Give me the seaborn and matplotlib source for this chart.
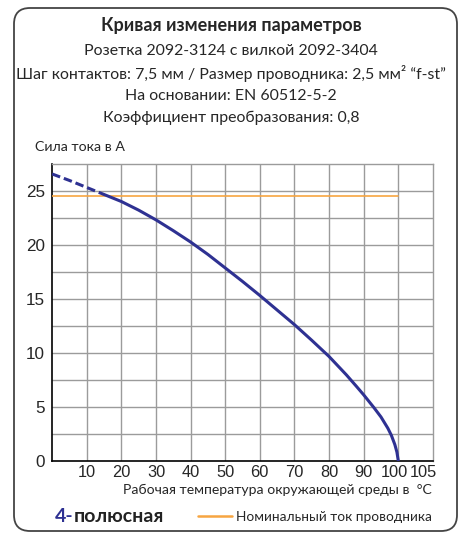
import matplotlib
matplotlib.use("Agg")
import matplotlib.pyplot as plt
import seaborn as sns
import pandas as pd
from matplotlib.patches import FancyBboxPatch
from matplotlib.transforms import IdentityTransform, ScaledTranslation
from matplotlib.ticker import MultipleLocator, FixedLocator

# Derating curve: extrapolated part (dashed) and rated part (solid)
temp_dashed = [0, 5, 10, 15]
current_dashed = [26.55, 25.95, 25.3, 24.65]
temp_solid = [15, 20, 25, 30, 35, 40, 45, 50, 55, 60, 65, 70, 75, 80, 85, 88, 90, 93, 95, 97, 98, 99, 99.6, 100]
current_solid = [24.65, 24.0, 23.2, 22.3, 21.3, 20.25, 19.1, 17.85, 16.6, 15.3, 13.95, 12.6, 11.15, 9.65, 7.95,
                 6.85, 6.1, 4.9, 4.05, 3.0, 2.35, 1.5, 0.8, 0.0]
# Rated conductor current
rated_temp = [0, 100]
rated_current = [24.5, 24.5]

x_ticks = [10, 20, 30, 40, 50, 60, 70, 80, 90, 100, 105]
y_ticks = [0, 5, 10, 15, 20, 25]

title = "Кривая изменения параметров"
subtitle_lines = [
    "Розетка 2092-3124 с вилкой 2092-3404",
    "Шаг контактов: 7,5 мм / Размер проводника: 2,5 мм² \u201cf-st\u201d",
    "На основании: EN 60512-5-2",
    "Коэффициент преобразования: 0,8",
]
y_label = "Сила тока в А"
x_label = "Рабочая температура окружающей среды в  °C"
series_num = "4-"
series_name = "полюсная"
rated_label = "Номинальный ток проводника"

BLUE = "#2e3192"
ORANGE = "#f7a541"
GRID = "#9b9b9b"
W, H = 462, 533

sns.set_style("white")
TXT = ["Lato", "DejaVu Sans"]
NUM = ["Liberation Sans", "DejaVu Sans"]
plt.rcParams["font.family"] = TXT

fig = plt.figure(figsize=(W / 100, H / 100), dpi=100)
ax = fig.add_axes([52.1 / W, 1 - 460.7 / H, (432.9 - 52.1) / W, (460.7 - 163.7) / H])

df_d = pd.DataFrame({"t": temp_dashed, "i": current_dashed})
df_s = pd.DataFrame({"t": temp_solid, "i": current_solid})
df_r = pd.DataFrame({"t": rated_temp, "i": rated_current})

sns.lineplot(data=df_r, x="t", y="i", ax=ax, color=ORANGE, lw=1.2, zorder=3)
sns.lineplot(data=df_d, x="t", y="i", ax=ax, color=BLUE, lw=2.2, zorder=4,
             linestyle=(0, (2.8, 1.3)), sort=False)
sns.lineplot(data=df_s, x="t", y="i", ax=ax, color=BLUE, lw=2.2, zorder=4, sort=False)

ax.set_xlim(0, 110)
ax.set_ylim(0, 27.5)
ax.set_xlabel("")
ax.set_ylabel("")

# Grid: verticals every 10 °C, horizontals every 2.5 A
for gx in range(10, 110, 10):
    ax.axvline(gx, color=GRID, lw=1.0, zorder=1)
for k in range(1, 11):
    ax.axhline(k * 2.5, color=GRID, lw=1.0, zorder=1)

ax.xaxis.set_major_locator(FixedLocator(x_ticks))
ax.set_xticklabels([str(v) for v in x_ticks])
ax.xaxis.set_minor_locator(MultipleLocator(2))
ax.yaxis.set_major_locator(FixedLocator(y_ticks))
ax.set_yticklabels([str(v) for v in y_ticks])
ax.yaxis.set_minor_locator(MultipleLocator(0.5))
ax.tick_params(axis="x", which="major", direction="in", length=4, width=1, pad=3, labelsize=11.8,
               color="black")
ax.tick_params(axis="x", which="minor", direction="in", length=2.5, width=0.8, color="black")
ax.tick_params(axis="y", which="major", direction="out", length=4, width=1, pad=1, labelsize=12.3,
               color="black")
ax.tick_params(axis="y", which="minor", direction="out", length=2, width=0.8, color="black")
for lab in ax.get_xticklabels() + ax.get_yticklabels():
    lab.set_family(NUM)
# pull the crowded "100" / "105" labels apart
xl = ax.get_xticklabels()
xl[-2].set_transform(xl[-2].get_transform() + ScaledTranslation(-3.5 / 100, 0, fig.dpi_scale_trans))
xl[-1].set_transform(xl[-1].get_transform() + ScaledTranslation(8 / 100, 0, fig.dpi_scale_trans))
for s in ["left", "bottom"]:
    ax.spines[s].set_color("black")
    ax.spines[s].set_linewidth(1.2)
for s in ["top", "right"]:
    ax.spines[s].set_color(GRID)
    ax.spines[s].set_linewidth(1.0)


def fx(x):
    return x / W


def fy(y):
    return 1 - y / H


fig.text(fx(231), fy(25), title, ha="center", va="center", fontsize=13, fontweight="bold")
for yy, line in zip([51, 73, 96, 118], subtitle_lines):
    fig.text(fx(231), fy(yy), line, ha="center", va="center", fontsize=11.4)
fig.text(fx(35), fy(147), y_label, ha="left", va="center", fontsize=10.2)
fig.text(fx(432), fy(490), x_label, ha="right", va="center", fontsize=10.1)

# Series name with coloured pole count
renderer = fig.canvas.get_renderer()
t1 = fig.text(fx(55), fy(517), series_num, ha="left", va="center", fontsize=14, fontweight="bold",
              color=BLUE)
bb = t1.get_window_extent(renderer)
fig.text(bb.x1 / W, fy(517), series_name, ha="left", va="center", fontsize=14, fontweight="bold",
         color="#222222")

fig.add_artist(plt.Line2D([fx(198), fx(232)], [fy(516), fy(516)], color=ORANGE, lw=1.8))
fig.text(fx(432), fy(517), rated_label, ha="right", va="center", fontsize=9.8)

frame = FancyBboxPatch((14, 2), 443, 523, boxstyle="round,pad=0,rounding_size=16",
                       transform=IdentityTransform(), fill=False, edgecolor="#444444", lw=1.3)
fig.add_artist(frame)

fig.savefig("out.png", dpi=100)
